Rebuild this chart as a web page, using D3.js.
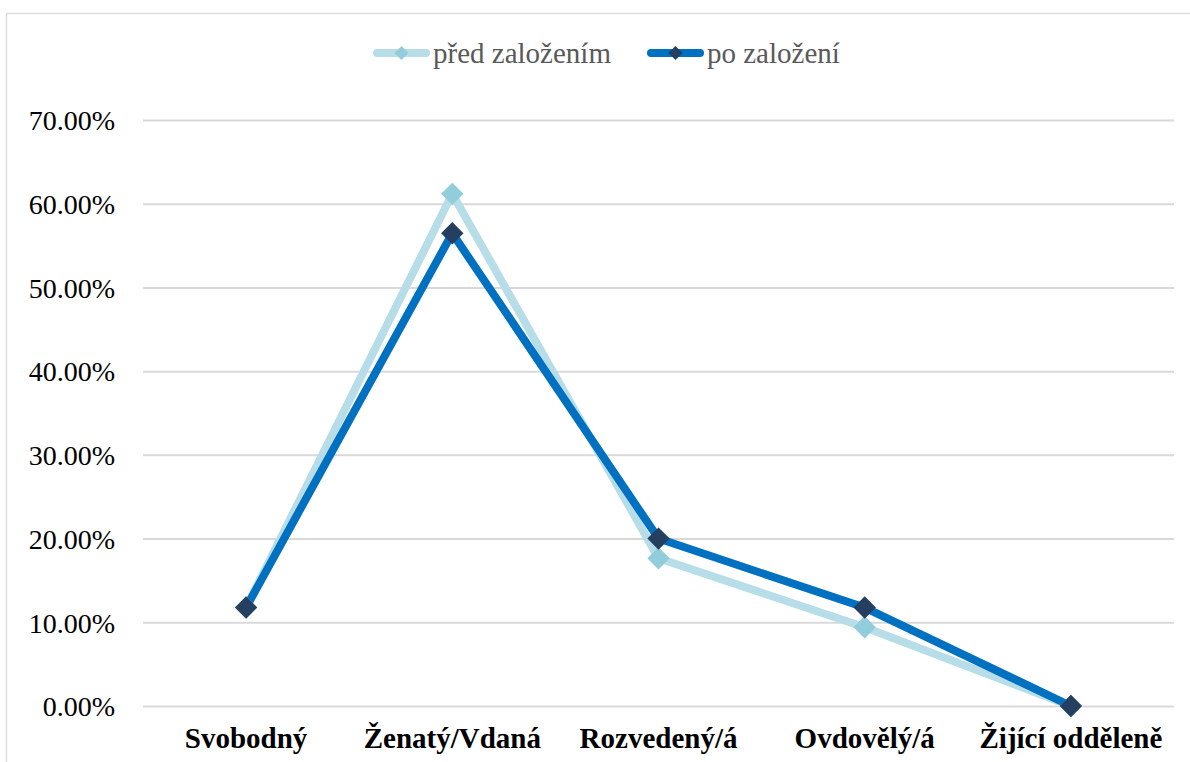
<!DOCTYPE html>
<html>
<head>
<meta charset="utf-8">
<script src="https://cdn.jsdelivr.net/npm/d3@7"></script>
<style>
  html, body { margin: 0; padding: 0; background: #fff; }
  svg { display: block; }
  svg text { font-family: "Liberation Serif", "Times New Roman", "DejaVu Serif", serif !important; }
</style>
</head>
<body>
<svg id="chart" width="1190" height="762"></svg>
<script>
// Marital status categories and shares (as fractions)
const categories = ["Svobodný", "Ženatý/Vdaná", "Rozvedený/á", "Ovdovělý/á", "Žijící odděleně"];
const predZalozenim = [0.1176, 0.6118, 0.1765, 0.0941, 0.0];
const poZalozeni = [0.1176, 0.5647, 0.2000, 0.1176, 0.0];
const yTicks = [0, 0.1, 0.2, 0.3, 0.4, 0.5, 0.6, 0.7];

const series = [
  { name: "před založením", values: predZalozenim, line: "#b7dde8", marker: "#92cddc" },
  { name: "po založení", values: poZalozeni, line: "#0070c0", marker: "#243f60" }
];

const svg = d3.select("#chart");
const margin = { left: 143, right: 1174, top: 120, bottom: 706 };

// Outer frame
svg.append("rect")
  .attr("x", 6.5).attr("y", 13.5)
  .attr("width", 1200).attr("height", 800)
  .attr("fill", "none").attr("stroke", "#d9d9d9").attr("stroke-width", 1.3);

const x = d3.scaleBand().domain(categories).range([margin.left, margin.right]);
const y = d3.scaleLinear().domain([0, 0.7]).range([margin.bottom, margin.top]);

// Horizontal gridlines + y labels
const yAxis = d3.axisLeft(y).tickValues(yTicks).tickFormat(d => (d * 100).toFixed(2) + "%")
  .tickSize(-(margin.right - margin.left)).tickPadding(28);
const gy = svg.append("g").attr("transform", `translate(${margin.left},0)`).call(yAxis);
gy.select(".domain").remove();
gy.selectAll(".tick line").attr("stroke", "#d9d9d9").attr("stroke-width", 2);
gy.selectAll(".tick text")
  .attr("font-size", 28).attr("fill", "#000")
  .attr("dy", "0.35em");

// Category labels
const xAxis = d3.axisBottom(x).tickSize(0).tickPadding(21);
const gx = svg.append("g").attr("transform", `translate(0,${margin.bottom})`).call(xAxis);
gx.select(".domain").remove();
gx.selectAll(".tick text")
  .attr("font-size", 29).attr("font-weight", "bold").attr("fill", "#000");

const cx = c => x(c) + x.bandwidth() / 2;
const line = d3.line().x((d, i) => cx(categories[i])).y(d => y(d));
const diamond = d3.symbol().type(d3.symbolSquare).size(250);

series.forEach(s => {
  svg.append("path")
    .datum(s.values)
    .attr("d", line)
    .attr("fill", "none")
    .attr("stroke", s.line)
    .attr("stroke-width", 8)
    .attr("stroke-linejoin", "round");
});
series.forEach(s => {
  svg.append("g").selectAll("path")
    .data(s.values)
    .join("path")
    .attr("d", diamond)
    .attr("transform", (d, i) => `translate(${cx(categories[i])},${y(d)}) rotate(45)`)
    .attr("fill", s.marker);
});

// Legend
const legendItems = [
  { s: series[0], x0: 373 },
  { s: series[1], x0: 647 }
];
const ly = 53;
legendItems.forEach(({ s, x0 }) => {
  const g = svg.append("g");
  g.append("line")
    .attr("x1", x0 + 4).attr("x2", x0 + 53).attr("y1", ly).attr("y2", ly)
    .attr("stroke", s.line).attr("stroke-width", 8).attr("stroke-linecap", "round");
  g.append("path")
    .attr("d", d3.symbol().type(d3.symbolSquare).size(100))
    .attr("transform", `translate(${x0 + 28.5},${ly}) rotate(45)`)
    .attr("fill", s.marker);
  g.append("text")
    .attr("x", x0 + 60).attr("y", ly).attr("dy", "0.33em")
    .attr("font-size", 29).attr("fill", "#595959")
    .text(s.name);
});
</script>
</body>
</html>
